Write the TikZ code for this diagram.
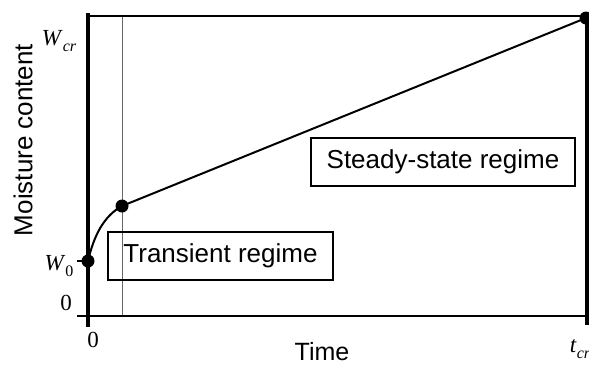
\documentclass[tikz,border=0pt]{standalone}
\usepackage{fontspec}
\setmainfont{Liberation Serif}
\newfontfamily\labelsans{Liberation Sans}
\newcommand{\subit}[1]{\raisebox{-0.28em}{\fontsize{16}{18}\selectfont\itshape #1}}
\tikzset{
  dot/.style={circle,fill=black,inner sep=0pt,minimum size=13pt},
  regbox/.style={draw,line width=1.3pt,font=\labelsans\fontsize{26}{30}\selectfont,inner sep=0pt},
  axisthick/.style={line width=3.2pt},
  axisthin/.style={line width=2pt},
  grayline/.style={line width=1pt,black!60},
  curve/.style={line width=2pt},
  ticklab/.style={font=\fontsize{23}{26}\selectfont,inner sep=0pt}
}
\begin{document}
\begin{tikzpicture}[x=1pt,y=-1pt]
\useasboundingbox (0,0) rectangle (589,365);
% frame lines
\coordinate (tl) at (88,16);
\coordinate (tr) at (587,16);
\coordinate (ltop) at (88,13);
\coordinate (lbot) at (88,327);
\coordinate (rbot) at (587,325);
\coordinate (bl) at (77,316);
\coordinate (br) at (589,316);
\coordinate (gtop) at (122,16);
\coordinate (gbot) at (122,316);
\coordinate (wtick) at (77,261);
\draw[grayline] (gtop) -- (gbot);
\draw[axisthin] (tl) -- (tr);
\draw[axisthin] (bl) -- (br);
\draw[axisthick] (ltop) -- (lbot);
\draw[axisthick] (tr) -- (rbot);
% points
\node[dot] (p0) at (88,261) {};
\node[dot] (p1) at (122,206) {};
\node[dot] (p2) at (586,18) {};
\draw[axisthin] (wtick) -- (p0.center);
\draw[curve] (p0.center) .. controls (94,235) and (104,216) .. (p1.center);
\draw[curve] (p1.center) -- (p2.center);
% boxes
\node[regbox,minimum width=225pt,minimum height=48pt] (trans) at (220.5,256) {Transient regime};
\node[regbox,minimum width=264pt,minimum height=48pt] (steady) at (443,162) {Steady-state regime};
% labels
\node[ticklab,anchor=base] (wcr) at (59,45) {\textit{W}\subit{cr}};
\node[ticklab,anchor=base] (w0) at (59,270) {\textit{W}\raisebox{-0.28em}{\fontsize{16}{18}\selectfont 0}};
\node[ticklab,anchor=base] (z0) at (66,310) {0};
\node[ticklab,anchor=base] (zx) at (93,347) {0};
\node[ticklab,anchor=base] (tcr) at (580,352) {\textit{t}\subit{cr}};
\node[font=\labelsans\fontsize{25}{28}\selectfont,inner sep=0pt] (time) at (322,352) {Time};
\node[font=\labelsans\fontsize{26}{30}\selectfont,inner sep=0pt,rotate=90] (mc) at (23,140) {Moisture content};
\end{tikzpicture}
\end{document}
